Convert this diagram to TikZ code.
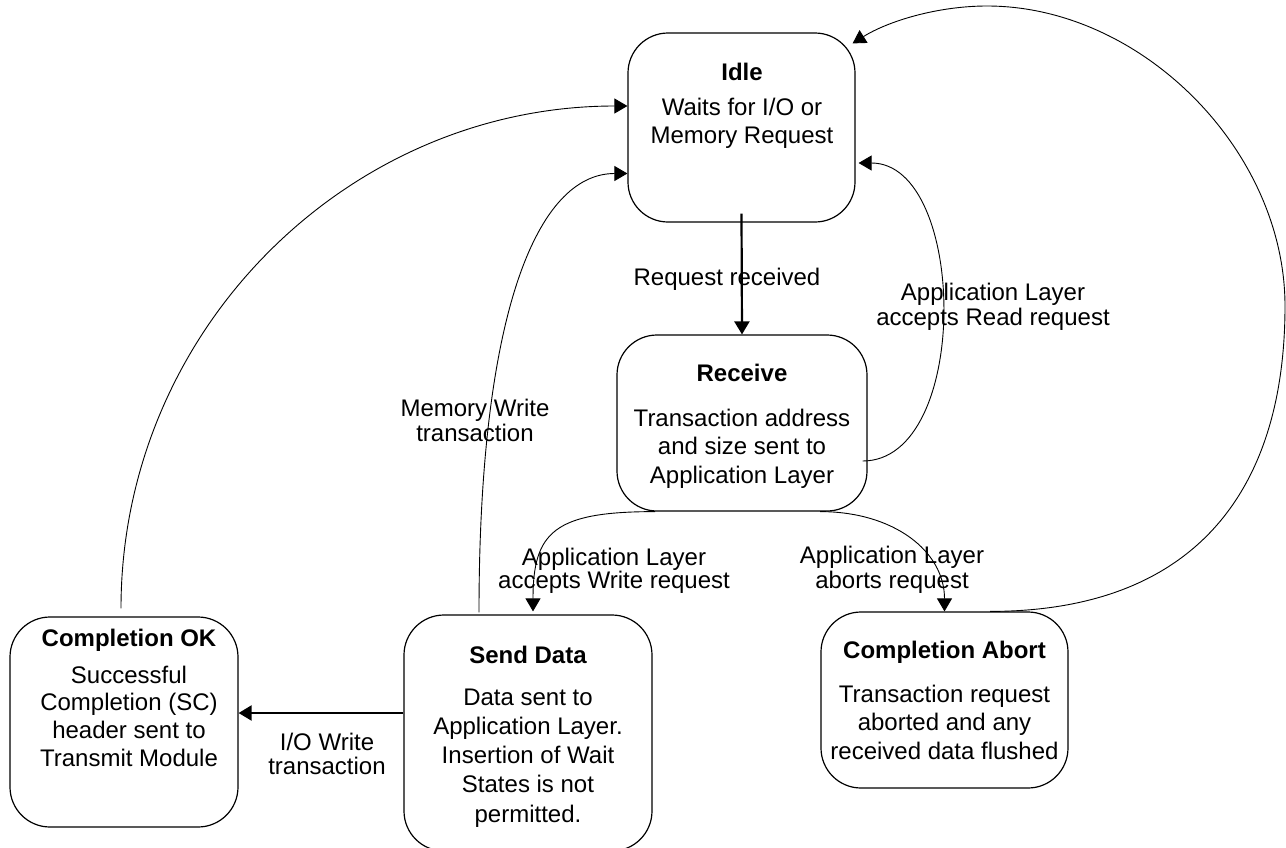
\documentclass[tikz,border=0pt]{standalone}
\usepackage{fontspec}
\setmainfont{Liberation Sans}
\usetikzlibrary{arrows.meta,calc}
\begin{document}
\begin{tikzpicture}[x=1pt,y=-1pt,
  state/.style={draw, line width=1.2pt, rounded corners=40pt, inner sep=0pt},
  title/.style={font=\fontsize{24}{28.5}\selectfont\bfseries, anchor=north, inner sep=0pt,
                execute at begin node=\strut},
  body/.style={font=\fontsize{24}{28.5}\selectfont, align=center, anchor=north, inner sep=0pt,
               execute at begin node=\strut},
  edgelabel/.style={font=\fontsize{24}{25}\selectfont, align=center, anchor=north, inner sep=0pt,
                    execute at begin node=\strut},
  flow/.style={line width=0.9pt, -{Triangle[length=13pt,width=15pt]}},
  boldflow/.style={line width=2.2pt, -{Triangle[length=13pt,width=15pt]}}]

\useasboundingbox (0,0) rectangle (1286,847);

% states
\node[state, minimum width=227pt, minimum height=189pt] (idle)   at (741.5,127.5) {};
\node[state, minimum width=250pt, minimum height=176pt] (recv)   at (742,423) {};
\node[state, minimum width=228pt, minimum height=210pt] (cok)    at (124,722) {};
\node[state, minimum width=248pt, minimum height=236pt] (sdata)  at (528,733) {};
\node[state, minimum width=247pt, minimum height=176pt] (cabort) at (944.5,700) {};

% state texts
\node[title] (idleT) at (742,60.5) {Idle};
\node[body, font=\fontsize{24}{28}\selectfont] (idleB) at (742,97.5) {Waits for I/O or\\Memory Request};

\node[title] (recvT) at (742,361.5) {Receive};
\node[body] (recvB) at (742,408.5) {Transaction address\\and size sent to\\Application Layer};

\node[title] (cokT) at (129,626.5) {Completion OK};
\node[body, font=\fontsize{24}{27.8}\selectfont] (cokB) at (129,665.5) {Successful\\Completion (SC)\\header sent to\\Transmit Module};

\node[title] (sdataT) at (528,643.5) {Send Data};
\node[body, font=\fontsize{24}{29.2}\selectfont] (sdataB) at (528,688.5) {Data sent to\\Application Layer.\\Insertion of Wait\\States is not\\permitted.};

\node[title] (cabortT) at (944.5,638.5) {Completion Abort};
\node[body] (cabortB) at (944.5,684.5) {Transaction request\\aborted and any\\received data flushed};

% transition labels
\node[edgelabel] (lreq)   at (727,268) {Request received};
\node[edgelabel] (lread)  at (993,283) {Application Layer\\accepts Read request};
\node[edgelabel] (lmem)   at (475,399) {Memory Write\\transaction};
\node[edgelabel, font=\fontsize{24}{23}\selectfont] (lwrite) at (614,548) {Application Layer\\accepts Write request};
\node[edgelabel] (labort) at (892,546) {Application Layer\\aborts request};
\node[edgelabel, font=\fontsize{24}{24}\selectfont] (lio) at (327,733) {I/O Write\\transaction};

% way points of the abort loop
\coordinate (loopE) at (1285,306);
\coordinate (loopN) at (987,6);

% transitions
\draw[boldflow] ($(idle.south)+(0,-9)$) -- (recv.north);

\draw[flow] ($(recv.south)+(-87,0)$) .. controls +(-100,0) and +(0,-80) .. ($(sdata.north)+(5,-3)$);

\draw[flow] ($(recv.south)+(78,0)$) .. controls +(74,0) and +(0,-60) .. (cabort.north);

\draw[flow] ($(recv.east)+(-5,38)$) .. controls +(109,0) and +(109,0) .. ($(idle.east)+(3,35.5)$);

\draw[flow] ($(sdata.north)+(-49,-2)$) .. controls +(0,-300) and +(-90,0) .. ($(idle.west)+(0,46)$);

\draw[flow] ($(cok.north)+(-3,-8)$) .. controls +(0,-278) and +(-280,0) .. ($(idle.west)+(0,-21.5)$);

\draw[boldflow] ($(sdata.west)+(0,-20)$) -- ($(cok.east)+(0,-9)$);

\draw[flow] ($(cabort.north)+(45.5,0)$) .. controls +(200,0) and +(0,190) .. (loopE)
  .. controls +(0,-155) and +(155,0) .. (loopN)
  .. controls +(-50,0) and +(35,-22) .. ($(idle.north east)+(-3,11)$);

\end{tikzpicture}
\end{document}
